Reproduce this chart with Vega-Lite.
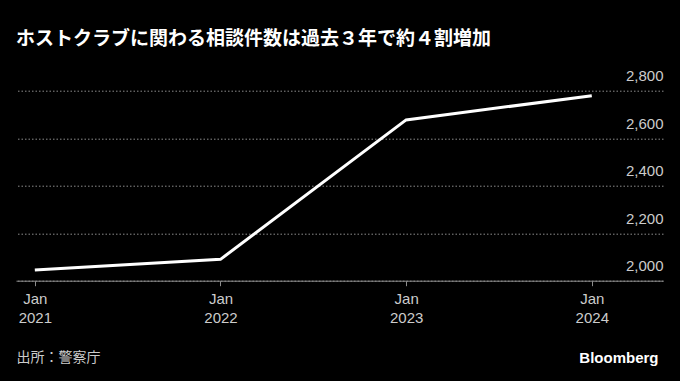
{
  "$schema": "https://vega.github.io/schema/vega-lite/v6.json",
  "width": 647,
  "height": 190,
  "autosize": {"type": "none"},
  "padding": {"left": 16, "top": 90.7, "right": 17, "bottom": 100.3},
  "background": "#000000",
  "title": {
    "text": "ホストクラブに関わる相談件数は過去３年で約４割増加",
    "anchor": "start",
    "frame": "group",
    "offset": 20,
    "font": "Noto Sans CJK JP",
    "fontWeight": "bold",
    "fontSize": 19,
    "color": "#ffffff"
  },
  "config": {
    "view": {"stroke": null},
    "axis": {"labelFont": "Liberation Sans", "labelFontSize": 15, "labelColor": "#cccccc"}
  },
  "data": {
    "values": [
      {"date": "2021-01-01T00:00:00", "count": 2045},
      {"date": "2022-01-01T00:00:00", "count": 2090},
      {"date": "2023-01-01T00:00:00", "count": 2677},
      {"date": "2024-01-01T00:00:00", "count": 2779}
    ]
  },
  "mark": {"type": "line", "color": "#ffffff", "strokeWidth": 3, "clip": false},
  "encoding": {
    "x": {
      "field": "date",
      "type": "temporal",
      "scale": {"domain": [{"year": 2020, "month": 11, "date": 25}, {"year": 2024, "month": 5, "date": 20}]},
      "axis": {
        "values": [
          {"year": 2021, "month": 1, "date": 1},
          {"year": 2022, "month": 1, "date": 1},
          {"year": 2023, "month": 1, "date": 1},
          {"year": 2024, "month": 1, "date": 1}
        ],
        "labelExpr": "[timeFormat(datum.value, '%b'), timeFormat(datum.value, '%Y')]",
        "labelLineHeight": 19,
        "labelPadding": 6,
        "labelBaseline": "top",
        "domainColor": "#8c8c8c",
        "tickColor": "#8c8c8c",
        "tickSize": 5,
        "grid": false,
        "title": "出所：警察庁",
        "titleFont": "Noto Sans CJK JP",
        "titleFontSize": 14,
        "titleFontWeight": "normal",
        "titleColor": "#cccccc",
        "titleAnchor": "start",
        "titleAlign": "left",
        "titleBaseline": "middle",
        "titleX": 0,
        "titleY": 77
      }
    },
    "y": {
      "field": "count",
      "type": "quantitative",
      "scale": {"domain": [2000, 2800], "zero": false},
      "axis": {
        "orient": "right",
        "values": [2000, 2200, 2400, 2600, 2800],
        "format": ",.0f",
        "domain": false,
        "ticks": false,
        "tickSize": 0,
        "labelAlign": "right",
        "labelBaseline": "alphabetic",
        "labelPadding": 0,
        "labelOffset": -10,
        "grid": true,
        "gridColor": "#8c8c8c",
        "gridDash": [1.5, 2],
        "gridWidth": 1,
        "title": "Bloomberg",
        "titleFont": "Liberation Sans",
        "titleFontSize": 15,
        "titleFontWeight": "bold",
        "titleColor": "#ffffff",
        "titleAngle": 0,
        "titleAlign": "right",
        "titleBaseline": "middle",
        "titleX": -5,
        "titleY": 267
      }
    }
  }
}
